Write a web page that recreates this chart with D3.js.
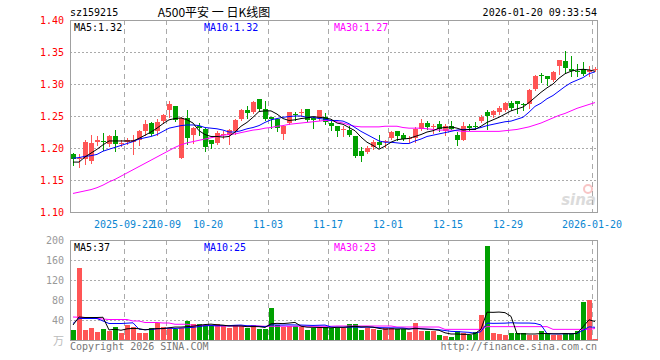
<!DOCTYPE html>
<html>
<head>
<meta charset="utf-8">
<script src="https://cdn.jsdelivr.net/npm/d3@7"></script>
<style>
  body { margin: 0; background: #fff; }
  svg { display: block; }
  text { font-family: "DejaVu Sans Mono", "Liberation Mono", monospace; font-size: 10px; }
</style>
</head>
<body>
<svg width="660" height="360"></svg>
<script>
// trading days shown on the chart
const dates = ["2025-09-09","2025-09-10","2025-09-11","2025-09-12","2025-09-15","2025-09-16","2025-09-17","2025-09-18","2025-09-19","2025-09-22","2025-09-23","2025-09-24","2025-09-25","2025-09-26","2025-09-29","2025-09-30",
  "2025-10-09","2025-10-10","2025-10-13","2025-10-14","2025-10-15","2025-10-16","2025-10-17","2025-10-20","2025-10-21","2025-10-22","2025-10-23","2025-10-24","2025-10-27","2025-10-28","2025-10-29","2025-10-30","2025-10-31",
  "2025-11-03","2025-11-04","2025-11-05","2025-11-06","2025-11-07","2025-11-10","2025-11-11","2025-11-12","2025-11-13","2025-11-14","2025-11-17","2025-11-18","2025-11-19","2025-11-20","2025-11-21","2025-11-24","2025-11-25","2025-11-26","2025-11-27","2025-11-28",
  "2025-12-01","2025-12-02","2025-12-03","2025-12-04","2025-12-05","2025-12-08","2025-12-09","2025-12-10","2025-12-11","2025-12-12","2025-12-15","2025-12-16","2025-12-17","2025-12-18","2025-12-19","2025-12-22","2025-12-23","2025-12-24","2025-12-25","2025-12-26","2025-12-29","2025-12-30","2025-12-31",
  "2026-01-05","2026-01-06","2026-01-07","2026-01-08","2026-01-09","2026-01-12","2026-01-13","2026-01-14","2026-01-15","2026-01-16","2026-01-19","2026-01-20"];

const open = [1.190,1.183,1.183,1.179,1.209,1.211,1.207,1.219,1.206,1.209,1.210,1.213,1.226,1.239,1.226,1.242,1.260,1.265,1.184,1.247,1.221,1.235,
  1.230,1.213,1.208,1.221,1.221,1.226,1.245,1.260,1.256,1.277,1.261,1.248,1.245,1.222,1.239,1.253,1.255,1.261,1.247,1.247,1.248,1.239,
  1.234,1.229,1.228,1.219,1.196,1.194,1.201,1.210,1.210,1.216,1.226,1.221,1.215,1.216,1.229,1.239,1.233,1.238,1.226,1.235,1.221,1.213,
  1.235,1.234,1.242,1.256,1.252,1.257,1.259,1.271,1.274,1.268,1.268,1.292,1.314,1.312,1.307,1.328,1.336,1.323,1.321,1.323,1.318,1.323];
const high = [1.192,1.190,1.212,1.221,1.218,1.223,1.221,1.228,1.213,1.215,1.221,1.228,1.243,1.240,1.245,1.253,1.274,1.265,1.249,1.260,1.233,1.239,
  1.231,1.213,1.226,1.226,1.229,1.245,1.261,1.266,1.274,1.277,1.274,1.249,1.245,1.236,1.257,1.257,1.261,1.261,1.249,1.260,1.255,1.244,
  1.235,1.234,1.235,1.219,1.202,1.203,1.213,1.221,1.213,1.226,1.226,1.223,1.218,1.233,1.245,1.242,1.237,1.242,1.237,1.242,1.225,1.240,
  1.237,1.240,1.252,1.260,1.260,1.265,1.272,1.273,1.274,1.271,1.292,1.314,1.317,1.313,1.320,1.337,1.351,1.343,1.332,1.334,1.328,1.327];
const low = [1.174,1.170,1.175,1.177,1.205,1.197,1.203,1.195,1.203,1.206,1.190,1.205,1.221,1.220,1.221,1.239,1.249,1.242,1.184,1.207,1.208,1.220,
  1.195,1.200,1.207,1.216,1.207,1.222,1.244,1.247,1.254,1.259,1.244,1.231,1.226,1.214,1.238,1.244,1.250,1.242,1.232,1.244,1.237,1.228,
  1.218,1.219,1.218,1.186,1.179,1.192,1.199,1.202,1.202,1.214,1.212,1.212,1.210,1.210,1.228,1.229,1.224,1.226,1.221,1.229,1.205,1.212,
  1.228,1.229,1.240,1.229,1.248,1.253,1.258,1.259,1.254,1.260,1.263,1.290,1.303,1.299,1.304,1.315,1.317,1.313,1.313,1.314,1.313,1.321];
const close = [1.183,1.185,1.210,1.208,1.212,1.209,1.219,1.207,1.208,1.212,1.212,1.227,1.238,1.222,1.240,1.251,1.268,1.244,1.247,1.215,1.231,1.232,
  1.201,1.207,1.224,1.222,1.228,1.243,1.259,1.254,1.272,1.261,1.245,1.245,1.231,1.235,1.256,1.251,1.256,1.244,1.244,1.259,1.240,1.234,
  1.226,1.230,1.221,1.188,1.188,1.200,1.209,1.205,1.211,1.225,1.219,1.214,1.216,1.229,1.239,1.233,1.234,1.229,1.235,1.230,1.212,1.235,
  1.231,1.233,1.249,1.250,1.258,1.262,1.270,1.262,1.268,1.267,1.291,1.313,1.313,1.308,1.318,1.337,1.325,1.320,1.320,1.315,1.322,1.324];

const ma5 = [1.178,1.178,1.186,1.192,1.198,1.205,1.211,1.211,1.211,1.211,1.211,1.215,1.220,1.225,1.231,1.238,1.244,1.246,1.247,1.244,1.239,1.227,
  1.221,1.218,1.218,1.217,1.218,1.225,1.234,1.240,1.248,1.257,1.258,1.258,1.253,1.246,1.243,1.244,1.246,1.247,1.249,1.248,1.247,1.245,
  1.239,1.237,1.232,1.227,1.217,1.209,1.204,1.198,1.203,1.209,1.213,1.214,1.215,1.218,1.221,1.225,1.227,1.231,1.232,1.233,1.231,1.228,
  1.229,1.229,1.234,1.240,1.244,1.248,1.253,1.258,1.261,1.264,1.271,1.279,1.287,1.294,1.300,1.309,1.316,1.320,1.322,1.323,1.322,1.320];
const ma10 = [1.184,1.185,1.187,1.188,1.190,1.195,1.198,1.201,1.204,1.207,1.210,1.214,1.216,1.218,1.221,1.226,1.231,1.233,1.235,1.236,1.236,1.235,
  1.232,1.231,1.230,1.228,1.225,1.225,1.227,1.230,1.232,1.235,1.240,1.244,1.246,1.248,1.249,1.250,1.250,1.248,1.248,1.246,1.245,1.243,
  1.243,1.242,1.238,1.232,1.226,1.221,1.216,1.211,1.209,1.209,1.208,1.207,1.207,1.211,1.214,1.218,1.220,1.222,1.224,1.226,1.228,1.229,
  1.229,1.230,1.232,1.235,1.237,1.239,1.241,1.242,1.245,1.248,1.256,1.265,1.270,1.277,1.282,1.289,1.296,1.302,1.306,1.310,1.316,1.319];
const ma30 = [1.129,1.131,1.133,1.135,1.138,1.142,1.147,1.151,1.156,1.161,1.166,1.171,1.176,1.181,1.186,1.191,1.196,1.201,1.205,1.208,1.210,1.212,
  1.214,1.216,1.218,1.220,1.221,1.222,1.224,1.226,1.228,1.229,1.231,1.232,1.234,1.235,1.237,1.238,1.239,1.240,1.241,1.242,1.243,1.243,
  1.241,1.239,1.236,1.234,1.233,1.233,1.233,1.233,1.234,1.234,1.234,1.232,1.231,1.231,1.231,1.230,1.229,1.228,1.228,1.228,1.227,1.226,
  1.226,1.226,1.226,1.226,1.226,1.226,1.227,1.228,1.229,1.231,1.233,1.236,1.239,1.243,1.247,1.251,1.254,1.258,1.262,1.265,1.268,1.271];

// volume, in 10k shares (万)
const volume = [19.3,144.7,20,24.7,16,22,18,26.7,14.7,30,26.7,14.7,14.7,24,34,26.7,23.3,21.3,24,38,31.3,32,
  29.3,28,31.3,28,24,29.3,28,24,29.3,22.7,21.3,64,29.3,26.7,28,28,26,20,24.7,26.7,26,24.7,
  24.7,24.7,31.3,31.3,19.3,24.7,21.3,19.3,23.3,23.3,22.7,22.7,16,33.3,18,18,18,10,8,6,18,14.7,
  9.3,16,50,188,13.3,12,10,13.3,13.3,13.3,10,10,18,13.3,10,10,13.3,14.7,18,76,80,1.3];
const vma5 = [30,46,45,45,45,45.5,20.1,21.5,19.5,22.3,23.2,22.6,20.2,22,22.8,22.8,24.5,25.9,25.9,26.7,27.6,29.3,
  30.9,31.7,30.4,29.7,28.1,28.1,28.1,26.7,26.9,26.7,25.1,32.3,33.3,32.8,33.9,35.2,27.6,25.7,25.3,25.1,24.7,24.4,
  25.4,25.4,26.3,27.3,26.3,26.3,25.6,23.2,21.6,22.4,22,22.3,21.6,23.6,22.5,21.6,20.7,19.5,14.4,12,12,11.3,
  11.2,12.8,21.6,55.6,55.3,55.9,54.7,47.3,12.4,12.4,12,12,12.9,12.9,12.3,12.3,12.9,12.3,13.2,26.4,40.4,37];
const vma10 = [33,43,43,43,43,38,33,33,33,33.6,34.4,21.4,20.8,20.8,22.6,23,23.6,23,23.9,24.7,25.2,26.9,
  28.4,28.8,28.5,28.7,28.7,29.5,29.9,28.5,28.3,27.4,26.6,30.2,30,29.9,30.3,30.1,29.9,29.5,29.1,29.5,29.9,26,
  25.6,25.4,25.7,26,25.3,25.8,25.5,24.7,24.5,24.3,24.1,23.9,22.4,22.6,22.5,21.8,21.5,20.5,19,17.3,16.8,16,
  15.3,13.6,16.8,33.8,33.3,33.5,33.7,34.5,34,33.9,33.9,33.3,30.1,12.7,12.3,12.1,12.5,12.6,13.1,19.3,26.3,25.4];
const vma30 = [46,45.5,45,44,43,42,41,41,41,41,38,38,35,35,35,34,34,31.5,31.5,31.5,29.3,29.3,
  29.3,29.3,28,28,28,28,28,28,28,28,27.5,27.5,27.5,27.5,27.5,27.5,27.5,27.5,27.5,27.5,27.5,27.5,
  28,28,28,28,28,28,28,28,28,28,26,26,26,26,26,26,26,26,21.3,21.3,21.3,21.3,
  21.3,21.3,21.3,26.7,26.7,26.7,26.7,26.7,26.7,26.7,26.7,26.7,26.7,26.7,21.3,21.3,21.3,21.3,21.3,21.3,21.3,23];

const tickDates = ["2025-09-22","2025-10-09","2025-10-20","2025-11-03","2025-11-17","2025-12-01","2025-12-15","2025-12-29","2026-01-20"];
const tickLabels = ["2025-09-22","10-09","10-20","11-03","11-17","12-01","12-15","12-29","2026-01-20"];
const priceTicks = [1.10,1.15,1.20,1.25,1.30,1.35,1.40];
const volTicks = [40,80,120,160,200];

const up = "#ff5555", down = "#00a000";
const gridColor = "#aaaaaa";

const svg = d3.select("svg");
const frame = {left: 70, right: 597, pTop: 20, pBottom: 212, vTop: 240, vBottom: 340};

const x = d3.scaleBand().domain(dates).range([frame.left, frame.left + 6 * dates.length]);
const cx = d => x(d) + x.bandwidth() / 2;
const y = d3.scaleLinear().domain([1.10, 1.40]).range([frame.pBottom, frame.pTop]);
const yv = d3.scaleLinear().domain([0, 200]).range([frame.vBottom, frame.vTop]);
const px = v => Math.round(v) + 0.5;

// ---- header
svg.append("text").attr("x", 70).attr("y", 16).text("sz159215");
svg.append("text").attr("x", 214).attr("y", 17).attr("text-anchor", "middle")
  .style("font-family", "'Noto Sans CJK SC', sans-serif").style("font-size", "12px").text("A500平安 一 日K线图");
svg.append("text").attr("x", 597).attr("y", 16).attr("text-anchor", "end").text("2026-01-20 09:33:54");

// ---- grids for both panels
function grid(top, bottom, yScale, ticks) {
  const g = svg.append("g");
  g.selectAll(".h").data(ticks).enter().append("line")
    .attr("x1", frame.left).attr("x2", frame.right)
    .attr("y1", d => px(yScale(d))).attr("y2", d => px(yScale(d)))
    .attr("stroke", gridColor).attr("stroke-dasharray", "2,2");
  g.selectAll(".v").data(tickDates).enter().append("line")
    .attr("x1", d => px(x(d))).attr("x2", d => px(x(d)))
    .attr("y1", top).attr("y2", bottom)
    .attr("stroke", gridColor).attr("stroke-dasharray", "5,4");
  g.append("rect").attr("x", frame.left + 0.5).attr("y", top + 0.5)
    .attr("width", frame.right - frame.left).attr("height", bottom - top)
    .attr("fill", "none").attr("stroke", "#a0a0a0");
}
grid(frame.pTop, frame.pBottom, y, priceTicks.slice(1, -1));
grid(frame.vTop, frame.vBottom, yv, volTicks.slice(0, -1));

// ---- axes labels
const ya = svg.append("g").attr("transform", `translate(${frame.left - 3},0)`)
  .call(d3.axisLeft(y).tickValues(priceTicks).tickFormat(d3.format(".2f")).tickSize(0));
ya.select(".domain").remove();
ya.selectAll("text").attr("fill", "#ff0000").style("font-family", null).style("font-size", null).attr("font-family", null);

const va = svg.append("g").attr("transform", `translate(${frame.left - 3},0)`)
  .call(d3.axisLeft(yv).tickValues(volTicks).tickSize(0));
va.select(".domain").remove();
va.selectAll("text").attr("fill", "#999999").attr("font-family", null);
svg.append("text").attr("x", 64).attr("y", 345).attr("text-anchor", "end").attr("fill", "#bbbbbb")
  .style("font-family", "'Noto Sans CJK SC', sans-serif").style("font-size", "11px").text("万");

const xa = svg.append("g").attr("transform", `translate(${-x.bandwidth() / 2},${frame.pBottom + 6})`)
  .call(d3.axisBottom(x).tickValues(tickDates).tickSize(0).tickFormat((d, i) => tickLabels[i]));
xa.select(".domain").remove();
xa.selectAll("text").attr("fill", "#0a86d2").attr("font-family", null);
svg.selectAll(".tick text").style("font-size", null).attr("font-size", null);

// ---- candles
const idx = d3.range(dates.length);
const candles = svg.append("g").attr("shape-rendering", "crispEdges");
candles.selectAll("line").data(idx).enter().append("line")
  .attr("x1", i => Math.floor(cx(dates[i])) + 0.5).attr("x2", i => Math.floor(cx(dates[i])) + 0.5)
  .attr("y1", i => Math.round(y(high[i]))).attr("y2", i => Math.round(y(low[i])) + 1)
  .attr("stroke", i => close[i] >= open[i] ? up : down);
candles.selectAll("rect").data(idx).enter().append("rect")
  .attr("x", i => x(dates[i]) + 1).attr("width", x.bandwidth() - 1)
  .attr("y", i => Math.round(y(Math.max(open[i], close[i]))))
  .attr("height", i => Math.max(1, Math.round(y(Math.min(open[i], close[i]))) - Math.round(y(Math.max(open[i], close[i])))))
  .attr("fill", i => close[i] >= open[i] ? up : down);

// ---- volume bars
svg.append("g").attr("shape-rendering", "crispEdges")
  .selectAll("rect").data(idx).enter().append("rect")
  .attr("x", i => x(dates[i]) + 1).attr("width", x.bandwidth() - 1)
  .attr("y", i => Math.round(yv(volume[i])))
  .attr("height", i => frame.vBottom - Math.round(yv(volume[i])))
  .attr("fill", i => close[i] >= open[i] ? up : down);

// ---- moving average lines
function maLine(values, yScale, color) {
  svg.append("path").datum(values)
    .attr("d", d3.line().x((d, i) => cx(dates[i])).y(d => yScale(d)))
    .attr("fill", "none").attr("stroke", color).attr("stroke-width", 1);
}
maLine(ma30, y, "#ff00ff");
maLine(ma10, y, "#0000ff");
maLine(ma5, y, "#000000");
maLine(vma30, yv, "#ff00ff");
maLine(vma10, yv, "#0000ff");
maLine(vma5, yv, "#000000");

// ---- legends
const last = dates.length - 1;
function legend(yPos, items) {
  items.forEach(([xPos, label, color]) =>
    svg.append("text").attr("x", xPos).attr("y", yPos).attr("fill", color).text(label));
}
legend(31, [[74, "MA5:" + ma5[last].toFixed(2), "#000"], [204, "MA10:" + ma10[last].toFixed(2), "#0000ff"], [334, "MA30:" + ma30[last].toFixed(2), "#ff00ff"]]);
legend(251, [[74, "MA5:" + Math.round(vma5[last]), "#000"], [204, "MA10:" + Math.round(vma10[last]), "#0000ff"], [334, "MA30:" + Math.round(vma30[last]), "#ff00ff"]]);

// ---- sina watermark
const wm = svg.append("g").attr("opacity", 0.45);
wm.append("circle").attr("cx", 588).attr("cy", 189).attr("r", 4).attr("fill", "none").attr("stroke", "#f08080").attr("stroke-width", 2);
wm.append("text").attr("x", 596).attr("y", 205).attr("text-anchor", "end").attr("fill", "#b0b0b0")
  .style("font-family", "'DejaVu Sans', sans-serif").style("font-size", "15px").style("font-weight", "bold").style("font-style", "italic").text("sina");

// ---- footer
svg.append("text").attr("x", 70).attr("y", 350).attr("fill", "#777").text("Copyright 2026 SINA.COM");
svg.append("text").attr("x", 597).attr("y", 350).attr("text-anchor", "end").attr("fill", "#777").text("http://finance.sina.com.cn");
</script>
</body>
</html>
